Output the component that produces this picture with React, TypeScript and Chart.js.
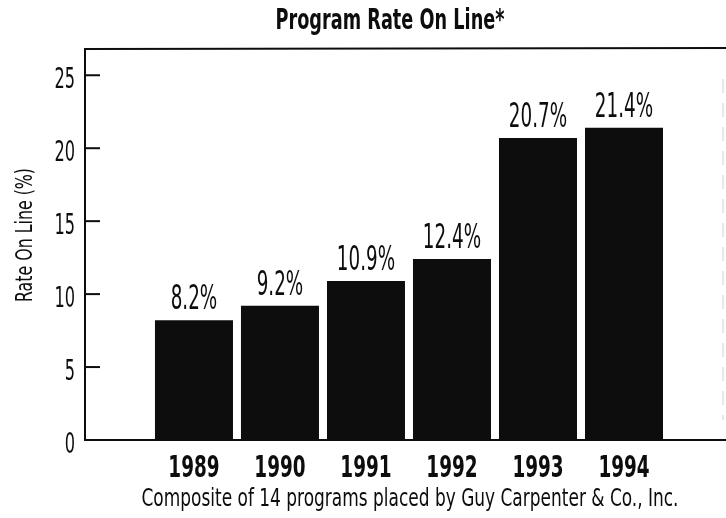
import React, { useEffect, useRef } from 'react';
import { Chart, registerables } from 'chart.js';

Chart.register(...registerables);

const years = ['1989', '1990', '1991', '1992', '1993', '1994'];
const rates = [8.2, 9.2, 10.9, 12.4, 20.7, 21.4];
const rateLabels = ['8.2%', '9.2%', '10.9%', '12.4%', '20.7%', '21.4%'];
const yTicks = [0, 5, 10, 15, 20, 25];
const titleText = 'Program Rate On Line*';
const yTitleText = 'Rate On Line (%)';
const subtitleText = 'Composite of 14 programs placed by Guy Carpenter & Co., Inc.';

const FONT = "'Liberation Sans Narrow', 'DejaVu Sans Condensed', 'DejaVu Sans', sans-serif";
const INK = '#0d0d0d';

function drawScaled(ctx: CanvasRenderingContext2D, text: string, x: number, y: number, font: string, sx: number, align: CanvasTextAlign = 'center') {
  ctx.save();
  ctx.translate(x, y);
  ctx.scale(sx, 1);
  ctx.font = font;
  ctx.textAlign = align;
  ctx.textBaseline = 'alphabetic';
  ctx.fillText(text, 0, 0);
  ctx.restore();
}

function drawFit(ctx: CanvasRenderingContext2D, text: string, cx: number, y: number, font: string, width: number) {
  ctx.save();
  ctx.font = font;
  const w = ctx.measureText(text).width;
  ctx.restore();
  drawScaled(ctx, text, cx, y, font, width / w, 'center');
}

const decor = {
  id: 'decor',
  afterDatasetsDraw(chart: any) {
    const { ctx, chartArea: a, scales } = chart;
    const y = scales.y;
    const x = scales.x;
    ctx.save();
    ctx.strokeStyle = INK;
    ctx.lineWidth = 2;
    ctx.beginPath();
    ctx.moveTo(a.left - 1, a.top);
    ctx.lineTo(a.right, a.top - 1);
    ctx.stroke();
    yTicks.forEach((v) => {
      if (v === 0) return;
      const py = y.getPixelForValue(v);
      ctx.beginPath();
      ctx.moveTo(a.left, py);
      ctx.lineTo(a.left + 15, py);
      ctx.stroke();
    });
    // faint right edge
    ctx.strokeStyle = '#cfcfcf';
    ctx.lineWidth = 1;
    ctx.setLineDash([14, 10]);
    ctx.beginPath();
    ctx.moveTo(a.right - 3, a.top + 30);
    ctx.lineTo(a.right - 3, a.bottom - 20);
    ctx.stroke();
    ctx.setLineDash([]);

    ctx.fillStyle = INK;
    // y tick labels
    yTicks.forEach((v) => {
      const py = y.getPixelForValue(v);
      drawScaled(ctx, String(v), 75, py + 13, `29px ${FONT}`, 0.62, 'right');
    });
    // x tick labels
    years.forEach((lab, i) => {
      const px = x.getPixelForValue(i);
      drawScaled(ctx, lab, px, 477, `bold 31px ${FONT}`, 0.66, 'center');
    });
    // value labels
    const meta = chart.getDatasetMeta(0);
    meta.data.forEach((bar: any, i: number) => {
      drawScaled(ctx, rateLabels[i], bar.x, bar.y - 11, `34px ${FONT}`, 0.6, 'center');
    });
    drawFit(ctx, titleText, 390, 29, `bold 28px ${FONT}`, 229);
    drawFit(ctx, subtitleText, 410, 506, `25px ${FONT}`, 537);
    ctx.save();
    ctx.translate(32, 235);
    ctx.rotate(-Math.PI / 2);
    drawFit(ctx, yTitleText, 0, 0, `23px ${FONT}`, 134);
    ctx.restore();
    ctx.restore();
  },
};

export default function App() {
  const ref = useRef<HTMLCanvasElement | null>(null);
  useEffect(() => {
    document.body.style.margin = '0';
    const canvas = ref.current!;
    const chart = new Chart(canvas, {
      type: 'bar',
      data: {
        datasets: [
          {
            data: rates.map((r, i) => ({ x: i, y: r })),
            backgroundColor: INK,
            borderWidth: 0,
            barPercentage: 0.907,
            categoryPercentage: 1,
          },
        ],
      },
      options: {
        animation: false,
        responsive: false,
        layout: { padding: { top: 49, left: 0, right: 0, bottom: 0 } },
        plugins: { legend: { display: false }, tooltip: { enabled: false }, title: { display: false } },
        scales: {
          x: {
            type: 'linear',
            offset: false,
            min: -1.267,
            max: 6.186,
            grid: { display: false, drawTicks: false },
            border: { display: true, color: INK, width: 2 },
            afterBuildTicks: (s: any) => {
              s.ticks = years.map((_, i) => ({ value: i }));
            },
            afterFit: (s: any) => {
              s.height = 78;
            },
            ticks: { display: false },
          },
          y: {
            min: 0,
            max: 26.8,
            afterBuildTicks: (s: any) => {
              s.ticks = yTicks.map((v) => ({ value: v }));
            },
            afterFit: (s: any) => {
              s.width = 85;
            },
            grid: { display: false, drawTicks: false },
            border: { display: true, color: INK, width: 2 },
            ticks: { display: false },
          },
        },
      },
      plugins: [decor],
    } as any);
    return () => chart.destroy();
  }, []);
  return (
    <div style={{ position: 'fixed', left: 0, top: 0, width: 726, height: 518, background: '#fff' }}>
      <canvas ref={ref} width={726} height={518} />
    </div>
  );
}
